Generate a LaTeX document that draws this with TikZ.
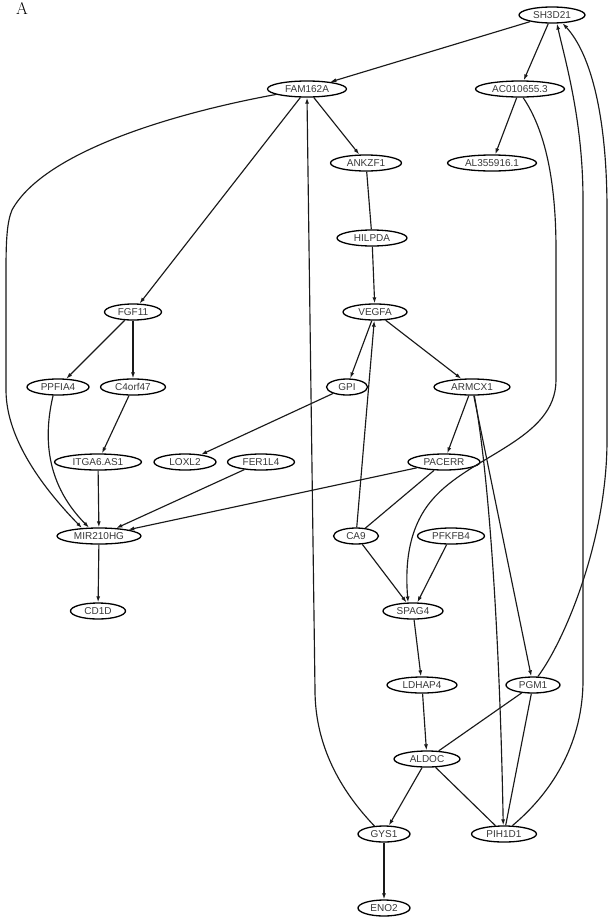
\documentclass[tikz,border=0pt]{standalone}
\usepackage{fontspec}
\setsansfont{Liberation Sans}
\usetikzlibrary{shapes.geometric,arrows.meta}
\tikzset{
  gene/.style={draw=black, line width=1.3pt, ellipse, inner sep=0pt,
    minimum height=16pt, text=black!78,
    font=\sffamily\fontsize{10}{12}\selectfont},
  link/.style={line width=1.15pt, draw=black!90},
  arr/.style={link, -{Latex[length=6pt,width=4pt]}},
}
\begin{document}
\begin{tikzpicture}[x=1pt,y=-1pt]
\useasboundingbox (0,0) rectangle (610,921);

% panel letter
\node[anchor=base, font=\fontsize{17}{18}\selectfont] (panel) at (22,14) {A};

% genes
\node[gene, minimum width=66pt] (SH3D21)    at (552,15)  {SH3D21};
\node[gene, minimum width=79pt] (FAM162A)   at (307,89)  {FAM162A};
\node[gene, minimum width=89pt] (AC0106553) at (520,89)  {AC010655.3};
\node[gene, minimum width=71pt] (ANKZF1)    at (366,163) {ANKZF1};
\node[gene, minimum width=89pt] (AL3559161) at (492,163) {AL355916.1};
\node[gene, minimum width=70pt] (HILPDA)    at (372,238) {HILPDA};
\node[gene, minimum width=64pt] (VEGFA)     at (375,312) {VEGFA};
\node[gene, minimum width=57pt] (FGF11)     at (133,312) {FGF11};
\node[gene, minimum width=62pt] (PPFIA4)    at (58,387)  {PPFIA4};
\node[gene, minimum width=65pt] (C4orf47)   at (133,387) {C4orf47};
\node[gene, minimum width=41pt] (GPI)       at (347,387) {GPI};
\node[gene, minimum width=76pt] (ARMCX1)    at (472,387) {ARMCX1};
\node[gene, minimum width=87pt] (ITGA6AS1)  at (98,462)  {ITGA6.AS1};
\node[gene, minimum width=62pt] (LOXL2)     at (185,462) {LOXL2};
\node[gene, minimum width=67pt] (FER1L4)    at (261,462) {FER1L4};
\node[gene, minimum width=72pt] (PACERR)    at (444,462) {PACERR};
\node[gene, minimum width=84pt] (MIR210HG)  at (99,536)  {MIR210HG};
\node[gene, minimum width=45pt] (CA9)       at (356,536) {CA9};
\node[gene, minimum width=67pt] (PFKFB4)    at (451,536) {PFKFB4};
\node[gene, minimum width=55pt] (CD1D)      at (98,611)  {CD1D};
\node[gene, minimum width=60pt] (SPAG4)     at (413,611) {SPAG4};
\node[gene, minimum width=70pt] (LDHAP4)    at (422,685) {LDHAP4};
\node[gene, minimum width=54pt] (PGM1)      at (533,685) {PGM1};
\node[gene, minimum width=66pt] (ALDOC)     at (427,759) {ALDOC};
\node[gene, minimum width=52pt] (GYS1)      at (384,834) {GYS1};
\node[gene, minimum width=65pt] (PIH1D1)    at (504,834) {PIH1D1};
\node[gene, minimum width=52pt] (ENO2)      at (384,908) {ENO2};

% straight connectors
\draw[arr] (SH3D21) -- (FAM162A);
\draw[arr] (SH3D21) -- (AC0106553);
\draw[arr] (AC0106553) -- (AL3559161);
\draw[arr] (FAM162A) -- (ANKZF1);
\draw[arr] (FAM162A) -- (FGF11);
\draw[link] (ANKZF1) -- (HILPDA);
\draw[arr] (HILPDA) -- (VEGFA);
\draw[arr] (VEGFA) -- (GPI);
\draw[arr] (VEGFA) -- (ARMCX1);
\draw[arr] (CA9) -- (VEGFA);
\draw[arr] (GPI) -- (LOXL2);
\draw[arr] (FGF11) -- (PPFIA4);
\draw[arr] (FGF11) -- (C4orf47);
\draw[arr] (C4orf47) -- (ITGA6AS1);
\draw[arr] (ITGA6AS1) -- (MIR210HG);
\draw[arr] (FER1L4) -- (MIR210HG);
\draw[arr] (PACERR) -- (MIR210HG);
\draw[arr] (MIR210HG) -- (CD1D);
\draw[arr] (ARMCX1) -- (PACERR);
\draw[arr] (ARMCX1) -- (PGM1);
\draw[link] (PACERR) -- (CA9);
\draw[arr] (CA9) -- (SPAG4);
\draw[arr] (PFKFB4) -- (SPAG4);
\draw[arr] (SPAG4) -- (LDHAP4);
\draw[arr] (LDHAP4) -- (ALDOC);
\draw[link] (PGM1) -- (ALDOC);
\draw[link] (PGM1) -- (PIH1D1);
\draw[arr] (ALDOC) -- (GYS1);
\draw[link] (ALDOC) -- (PIH1D1);
\draw[arr] (GYS1) -- (ENO2);

% curved connectors
\draw[arr] (ARMCX1.285) .. controls (490,480) and (500,650) .. (PIH1D1.95);
\draw[arr] (FAM162A.190) .. controls (180,112) and (45,150) .. (12,210)
  .. controls (7,222) and (6,240) .. (6,270) -- (6,390)
  .. controls (6,440) and (45,490) .. (MIR210HG.155);
\draw[arr] (PPFIA4.240) .. controls (45,430) and (42,480) .. (MIR210HG.140);
\draw[arr] (GYS1.140) .. controls (340,790) and (315,745) .. (315,690)
  -- (FAM162A.south);
\draw[arr] (AC0106553.290) .. controls (545,130) and (556,180) .. (556,250)
  -- (556,380) .. controls (556,440) and (470,455) .. (432,500)
  .. controls (408,528) and (405,565) .. (SPAG4.120);
\draw[arr] (PIH1D1.45) .. controls (555,790) and (583,740) .. (583,680)
  -- (583,200) .. controls (583,120) and (565,60) .. (SH3D21.300);
\draw[arr] (PGM1.60) .. controls (565,640) and (607,540) .. (607,440)
  -- (607,210) .. controls (607,120) and (592,55) .. (SH3D21.322);
\end{tikzpicture}
\end{document}
